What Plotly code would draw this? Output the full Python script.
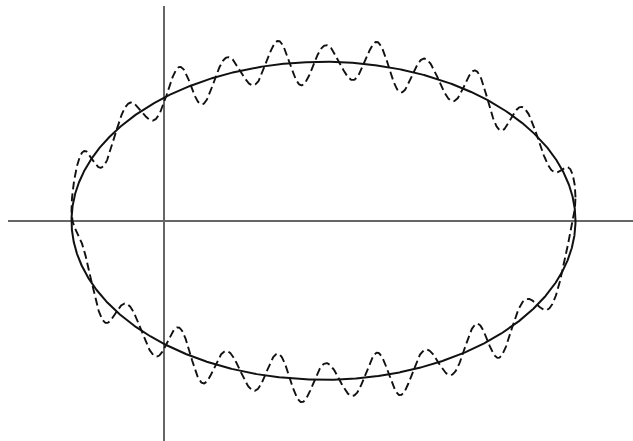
import numpy as np
import plotly.graph_objects as go

# Ellipse (data units: 1 unit = 50 px), centred on the x-axis
ELLIPSE_CENTER = [3.2, 0.0]     # (h, k)
ELLIPSE_SEMI_AXES = [5.04, 3.18]  # (a, b)

# Vertical ripple added to the ellipse (dashed curve)
RIPPLE_PERIOD = 0.99
RIPPLE_AMPLITUDE = 0.40
RIPPLE_PHASE_X = -0.938
ENVELOPE_AMPLITUDE = 0.09
ENVELOPE_PHASE_X = 0.52

X_RANGE = [-3.11, 9.39]
Y_RANGE = [-4.404, 4.296]

t = np.linspace(0, 2 * np.pi, 3001)
h, k = ELLIPSE_CENTER
a, b = ELLIPSE_SEMI_AXES
ex = h + a * np.cos(t)
ey = k + b * np.sin(t)

env = RIPPLE_AMPLITUDE + ENVELOPE_AMPLITUDE * np.cos(
    2 * np.pi * (ex - ENVELOPE_PHASE_X) / (2 * RIPPLE_PERIOD))
ripple = np.sin(2 * np.pi * (ex - RIPPLE_PHASE_X) / RIPPLE_PERIOD) * env
dy = ey + ripple

fig = go.Figure()
fig.add_trace(go.Scatter(x=ex, y=dy, mode="lines",
                         line=dict(color="#111111", width=1.9, dash="8px,4px"),
                         hoverinfo="skip", showlegend=False))
fig.add_trace(go.Scatter(x=ex, y=ey, mode="lines",
                         line=dict(color="#111111", width=2),
                         hoverinfo="skip", showlegend=False))

fig.update_layout(
    width=633, height=441,
    margin=dict(l=8, r=0, t=6, b=0),
    paper_bgcolor="white", plot_bgcolor="white",
    xaxis=dict(range=X_RANGE, showgrid=False, showticklabels=False, ticks="",
               zeroline=True, zerolinecolor="#666666", zerolinewidth=1.5,
               showline=False, fixedrange=True),
    yaxis=dict(range=Y_RANGE, showgrid=False, showticklabels=False, ticks="",
               zeroline=True, zerolinecolor="#666666", zerolinewidth=1.5,
               showline=False, fixedrange=True),
)

fig.write_html("out.html")
